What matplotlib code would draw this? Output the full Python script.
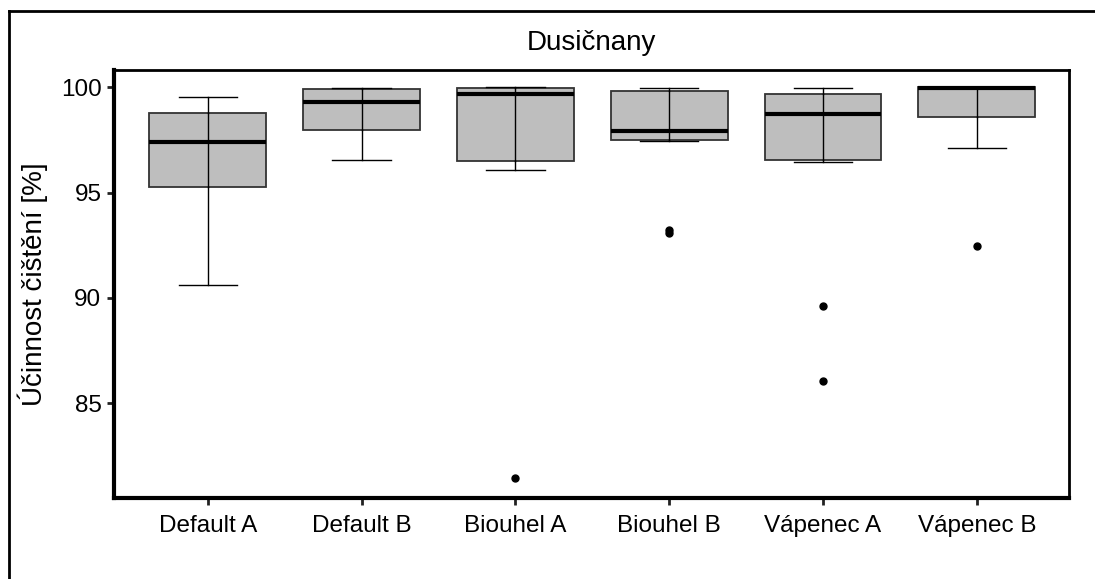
"""Boxplot of nitrate removal efficiency per filter variant (Dusičnany)."""

import matplotlib
matplotlib.use("Agg")
import matplotlib.pyplot as plt
from matplotlib.lines import Line2D

categories = ["Default A", "Default B", "Biouhel A", "Biouhel B", "Vápenec A", "Vápenec B"]
whisker_low = [90.62, 96.56, 96.09, 97.45, 96.44, 97.13]
q1 = [95.25, 97.96, 96.50, 97.48, 96.56, 98.60]
median = [97.39, 99.32, 99.68, 97.91, 98.73, 99.97]
q3 = [98.80, 99.90, 99.97, 99.80, 99.68, 100.0]
whisker_high = [99.55, 99.95, 100.0, 99.97, 99.97, 100.0]
outliers = [[], [], [81.46], [93.20, 93.10], [89.62, 86.06], [92.48]]

title = "Dusičnany"
ylabel = "Účinnost čištění [%]"

plt.rcParams["font.family"] = ["Liberation Sans", "DejaVu Sans"]

fig = plt.figure(figsize=(10.95, 5.79), dpi=100)
ax = fig.add_axes([0.1041, 0.1399, 0.8722, 0.7392])

stats = []
for i, name in enumerate(categories):
    stats.append(
        {
            "label": name,
            "whislo": whisker_low[i],
            "q1": q1[i],
            "med": median[i],
            "q3": q3[i],
            "whishi": whisker_high[i],
            "fliers": outliers[i],
        }
    )

positions = list(range(1, len(categories) + 1))
ax.bxp(
    stats,
    positions=positions,
    widths=0.76,
    capwidths=0.38,
    patch_artist=True,
    showfliers=True,
    boxprops=dict(facecolor="#bebebe", edgecolor="#333333", linewidth=1.3),
    medianprops=dict(color="black", linewidth=3.0),
    whiskerprops=dict(color="black", linewidth=1.0),
    capprops=dict(color="black", linewidth=1.0),
    flierprops=dict(marker="o", markerfacecolor="black", markeredgecolor="black",
                    markersize=5),
    zorder=2,
)
# ggplot-style errorbar: whisker line runs through the box
for i, pos in enumerate(positions):
    ax.plot([pos, pos], [q1[i], q3[i]], color="black", lw=1.0, zorder=3)

ax.set_xlim(0.39, 6.6)
ax.set_ylim(80.5, 100.82)
ax.set_yticks([85, 90, 95, 100])
ax.set_xticks(positions)
ax.set_xticklabels(categories)
ax.tick_params(axis="both", labelsize=17.5, colors="#222222", length=5, width=2,
               labelcolor="black")
ax.tick_params(axis="x", pad=7)
ax.tick_params(axis="y", pad=4)

for side in ["top", "right"]:
    ax.spines[side].set_linewidth(2.0)
for side in ["left", "bottom"]:
    ax.spines[side].set_linewidth(3.0)

ax.set_ylabel(ylabel, fontsize=20, labelpad=9)
fig.text(0.5403, 1 - 43 / 579, title, ha="center", va="center", fontsize=20)

# outer border of the cropped plot area (top and left only)
fig.add_artist(Line2D([9 / 1095, 9 / 1095], [0, 1 - 11 / 579], color="black", lw=2.0,
                      transform=fig.transFigure))
fig.add_artist(Line2D([9 / 1095, 1], [1 - 11 / 579, 1 - 11 / 579], color="black", lw=2.0,
                      transform=fig.transFigure))

fig.savefig("out.png", dpi=100)
plt.close(fig)
